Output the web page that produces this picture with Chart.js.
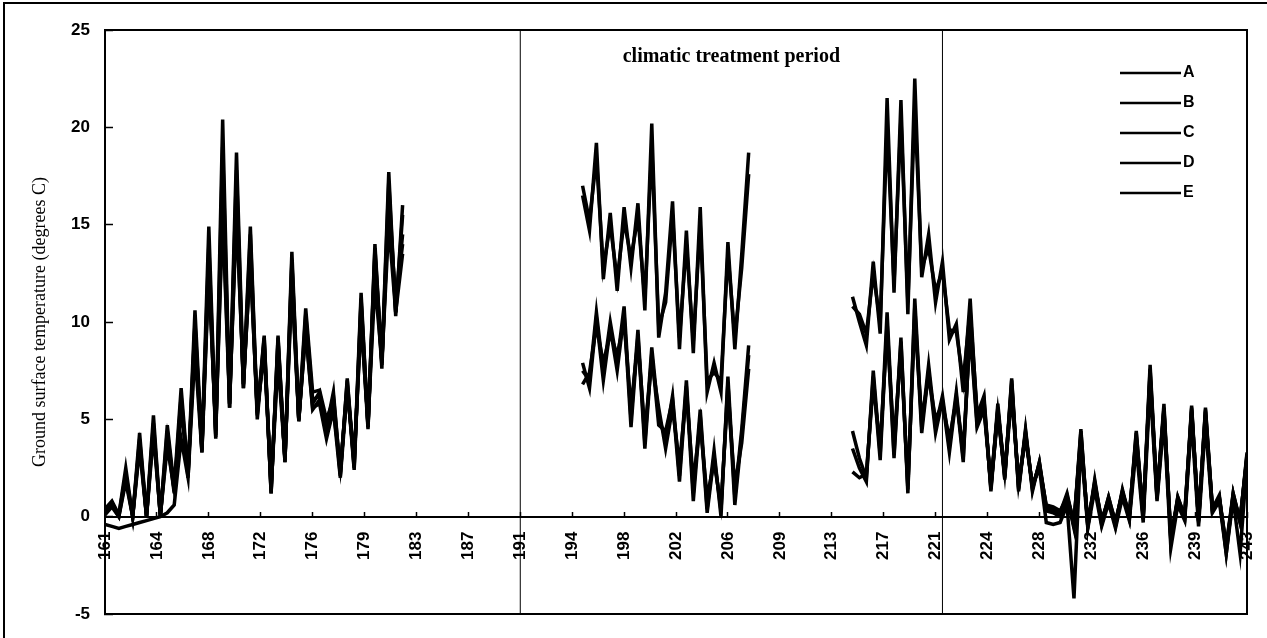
<!DOCTYPE html>
<html>
<head>
<meta charset="utf-8">
<title>Ground surface temperature</title>
<script src="https://cdn.jsdelivr.net/npm/chart.js@4.4.1/dist/chart.umd.min.js"></script>
<style>
  body { margin: 0; background: #fff; }
  canvas { display: block; }
</style>
</head>
<body>
<canvas id="Canvas1" width="1267" height="638"></canvas>
<script>
// sample times: two readings a day (night low, afternoon high), day 161 to 243.5
var days = [];
for (var d = 161; d <= 243.5; d += 0.5) days.push(d);

var tickDays = [161, 164.75, 168.5, 172.25, 176, 179.75, 183.5, 187.25, 191, 194.75, 198.5, 202.25,
    206, 209.75, 213.5, 217.25, 221, 224.75, 228.5, 232.25, 236, 239.75, 243.5];
var yRange = [-5, 25];
var treatmentPeriod = [191, 221.5];
var seriesNames = ['A', 'B', 'C', 'D', 'E'];
var block1Start = 195.5;
var block2Start = 215;

// before treatment, day 161 - 182.5
var preA = [-0.4,-0.5,-0.6,-0.5,-0.4,-0.3,-0.2,-0.1,0.0,0.2, 0.6,4.0,2.0,8.5,3.3,12.5,4.5,16.0,6.0,15.5,
    7.0,13.0,5.5,8.5,1.5,8.0,3.0,12.0,5.0,9.5, 5.5,6.0,4.2,5.5,2.5,6.5,3.0,10.0,4.8,12.0, 8.0,15.0,10.5,13.5];
var preB = [0.4,0.8,0.1,2.5,0.0,4.3,0.0,5.2,0.0,4.7, 1.5,6.6,2.2,10.6,3.5,14.9,4.2,20.4,5.8,18.7,
    6.8,14.9,5.3,9.3,1.2,9.3,2.8,13.6,5.0,10.7, 6.4,6.5,5.0,6.0,2.1,7.1,2.6,11.5,4.6,14.0, 7.9,17.7,10.3,16.0];
var preC = [0.2,0.6,0.0,2.0,0.0,3.8,0.0,4.6,0.0,4.0, 1.2,6.0,2.0,9.8,3.4,13.5,4.0,18.0,5.6,17.0,
    6.6,14.0,5.0,9.0,1.3,9.0,2.9,13.0,4.9,10.0, 5.8,6.4,4.5,6.2,2.3,6.8,2.4,11.0,4.7,13.5, 8.0,16.0,10.8,14.5];
var preD = [0.1,0.5,0.0,1.8,0.0,3.5,0.0,4.2,0.1,3.6, 1.4,5.5,2.4,9.0,3.6,12.8,4.4,15.5,5.8,16.0,
    6.8,13.2,5.4,8.8,1.6,8.6,3.0,12.4,5.0,9.6, 5.6,5.8,4.0,5.5,2.0,6.6,2.8,10.4,4.5,13.2, 7.6,16.4,11.0,14.0];
var preE = [0.3,0.7,0.1,2.2,0.0,4.0,0.0,4.8,0.0,4.4, 1.3,6.2,2.1,10.0,3.3,14.0,4.1,19.0,5.6,17.8,
    6.6,14.5,5.2,9.2,1.2,9.2,2.8,13.2,4.9,10.4, 6.0,6.2,4.6,6.4,2.2,7.0,2.5,11.2,4.6,13.8, 7.8,17.2,10.5,15.5];

// first treatment block, day 195.5 - 207.5
var t1A = [6.8,7.4,9.8,7.9,9.4,8.3,10.0,5.6,9.0,4.4,8.0,5.6,3.5,5.6,2.7,6.4,1.8,4.8,1.0,2.8,0.6,6.4,1.6,3.8,7.6];
var t1B = [16.5,14.7,19.2,12.2,15.6,11.6,15.9,12.8,16.1,10.6,20.2,9.2,11.5,16.2,8.6,14.7,8.4,15.9,6.4,7.9,6.4,14.1,8.6,13.5,18.7];
var t1C = [7.5,7.0,10.5,7.4,10.0,7.9,10.8,5.0,9.6,3.8,8.7,5.1,4.0,6.2,2.1,7.0,1.2,5.5,0.4,3.4,0.0,7.2,1.0,4.5,8.8];
var t1D = [17.0,15.2,18.4,12.8,15.0,12.2,15.2,13.3,15.4,11.2,19.0,9.8,11.0,15.5,9.2,14.0,9.0,15.0,7.0,7.4,7.0,13.5,9.2,12.8,17.6];
var t1E = [7.9,6.6,10.2,7.0,9.7,7.5,10.4,4.6,9.3,3.5,8.4,4.7,4.4,6.0,1.8,6.7,0.8,5.2,0.2,3.1,0.3,6.9,0.6,4.2,8.3];

// second treatment block and after, day 215 - 243.5
var t2A = [2.3,2.0,2.2,6.8,3.6,9.6,3.8,8.6,1.6,10.2,5.0,7.2,5.0,5.8,4.0,6.0,3.4,
    9.5,4.6,5.5,1.6,5.2,2.2,6.2,1.8,4.0,1.6,2.5,-0.3,-0.4,-0.3,0.6,-4.2,3.8,-0.6,1.4,-0.5,0.7,-0.6,1.0,-0.2,
    3.6,-0.3,6.8,0.8,5.0,-1.6,0.6,-0.2,5.0,-0.5,4.8,0.2,0.8,-1.9,0.9,-1.9,2.8];
var t2B = [11.3,10.0,8.8,13.1,9.4,21.5,11.5,21.4,10.4,22.5,12.3,14.5,11.0,13.1,9.1,9.9,6.4,
    11.2,5.0,6.0,1.4,5.8,2.0,7.1,1.4,4.5,1.4,2.8,0.5,0.4,0.2,1.2,-0.4,4.5,-0.5,1.9,-0.3,1.0,-0.4,1.4,0.0,
    4.4,0.0,7.8,1.0,5.8,-1.3,1.0,0.0,5.7,-0.3,5.6,0.4,1.1,-1.9,1.2,-0.3,3.3];
var t2C = [3.5,2.5,1.8,7.5,3.2,10.5,3.2,9.2,1.2,11.2,4.6,7.8,4.6,6.2,3.6,6.4,3.0,
    9.8,4.8,5.8,1.5,5.5,2.1,6.8,1.5,4.3,1.5,2.7,0.3,0.2,0.0,1.0,-0.6,4.2,-0.4,1.7,-0.4,0.9,-0.5,1.3,-0.1,
    4.1,-0.1,7.4,0.9,5.5,-1.2,0.9,-0.1,5.5,-0.2,5.4,0.3,1.0,-1.7,1.1,-0.3,3.1];
var t2D = [10.8,10.4,9.4,12.5,10.0,20.0,12.0,20.5,11.0,21.0,12.8,13.8,11.6,12.6,9.6,9.5,7.0,
    10.6,5.4,5.6,1.8,5.4,2.3,6.6,1.7,4.2,1.6,2.6,0.6,0.5,0.3,1.0,-0.2,4.0,-0.3,1.6,-0.1,0.8,-0.2,1.2,0.2,
    4.0,0.2,7.2,1.2,5.4,-1.0,0.8,0.2,5.4,0.0,5.2,0.5,0.9,-1.5,1.0,-0.1,3.0];
var t2E = [4.4,3.0,2.0,7.2,2.9,10.0,3.0,9.0,1.4,10.8,4.3,7.5,4.3,6.0,3.3,6.2,2.8,
    10.2,5.2,6.2,1.3,5.6,1.9,7.0,1.3,4.4,1.3,2.8,0.4,0.3,0.1,1.1,-0.5,4.4,-0.5,1.8,-0.3,1.0,-0.3,1.3,0.0,
    4.3,0.0,7.6,1.0,5.6,-1.1,1.0,0.0,5.6,-0.2,5.5,0.4,1.0,-1.5,1.2,-0.2,3.2];

// put the three blocks on the day axis, nulls where there is no reading
function build(pre, t1, t2) {
    var out = days.map(function () { return null; });
    var s1 = days.indexOf(block1Start);
    var s2 = days.indexOf(block2Start);
    pre.forEach(function (v, k) { out[k] = v; });
    t1.forEach(function (v, k) { out[s1 + k] = v; });
    t2.forEach(function (v, k) { out[s2 + k] = v; });
    return out;
}

var seriesData = [build(preA, t1A, t2A), build(preB, t1B, t2B), build(preC, t1C, t2C),
    build(preD, t1D, t2D), build(preE, t1E, t2E)];

var datasets = seriesNames.map(function (name, k) {
    return {
        label: name,
        data: seriesData[k],
        borderColor: '#000',
        backgroundColor: '#000',
        borderWidth: 3.5,
        pointRadius: 0,
        spanGaps: false,
        fill: false
    };
});

// start and end of the climatic treatment
treatmentPeriod.forEach(function (day) {
    datasets.push({
        label: '',
        data: [{x: day, y: yRange[0]}, {x: day, y: yRange[1]}],
        borderColor: '#000',
        borderWidth: 1,
        pointRadius: 0
    });
});

var tickFont = {family: 'Liberation Sans', size: 17, weight: 'bold'};

var framePlugin = {
    id: 'frame',
    beforeDraw: function (chart) {
        var c = chart.ctx, a = chart.chartArea;
        c.save();
        c.strokeStyle = '#000';
        c.lineWidth = 2;
        c.beginPath();
        c.moveTo(4, chart.height);
        c.lineTo(4, 3);
        c.lineTo(chart.width, 3);
        c.stroke();
        c.strokeRect(a.left, a.top, a.right - a.left, a.bottom - a.top);
        c.restore();
    }
};

var periodLabel = {
    id: 'periodLabel',
    afterDraw: function (chart) {
        var c = chart.ctx;
        var x = chart.scales.x.getPixelForValue((treatmentPeriod[0] + treatmentPeriod[1]) / 2);
        c.save();
        c.fillStyle = '#000';
        c.font = 'bold 20px "Liberation Serif"';
        c.textAlign = 'center';
        c.textBaseline = 'middle';
        c.fillText('climatic treatment period', x, chart.chartArea.top + 27);
        c.restore();
    }
};

// legend sits inside the plot, top right
var insideLegend = {
    id: 'insideLegend',
    afterDraw: function (chart) {
        var c = chart.ctx, a = chart.chartArea;
        c.save();
        c.strokeStyle = '#000';
        c.fillStyle = '#000';
        c.lineWidth = 2.5;
        c.font = 'bold 16px "Liberation Sans"';
        c.textAlign = 'left';
        c.textBaseline = 'middle';
        seriesNames.forEach(function (name, k) {
            var y = a.top + 43 + k * 30;
            c.beginPath();
            c.moveTo(a.right - 127, y);
            c.lineTo(a.right - 66, y);
            c.stroke();
            c.fillText(name, a.right - 64, y);
        });
        c.restore();
    }
};

var GKChart = document.getElementById('Canvas1').getContext('2d');

var myChart = new Chart(GKChart, {
    type: 'line',
    data: {
        labels: days,
        datasets: datasets
    },
    options: {
        responsive: false,
        animation: false,
        layout: {padding: {top: 30, right: 20, bottom: 24, left: 0}},
        plugins: {
            legend: {display: false},
            tooltip: {enabled: false}
        },
        elements: {line: {tension: 0}},
        scales: {
            x: {
                type: 'linear',
                position: {y: 0},
                min: days[0],
                max: tickDays[tickDays.length - 1],
                afterBuildTicks: function (scale) {
                    scale.ticks = tickDays.map(function (v) { return {value: v}; });
                },
                afterFit: function (scale) {
                    scale.paddingLeft = 0;
                    scale.paddingRight = 0;
                },
                grid: {drawOnChartArea: false, tickLength: -6, tickColor: '#000', tickWidth: 1.5},
                border: {color: '#000', width: 2},
                ticks: {
                    autoSkip: false,
                    minRotation: 90,
                    maxRotation: 90,
                    padding: 21,
                    color: '#000',
                    font: tickFont,
                    callback: function (v) { return Math.floor(v); }
                }
            },
            y: {
                min: yRange[0],
                max: yRange[1],
                afterFit: function (scale) {
                    scale.width = 105;
                    scale.paddingTop = 0;
                    scale.paddingBottom = 0;
                },
                grid: {drawOnChartArea: false, tickLength: -8, tickColor: '#000', tickWidth: 1.5},
                border: {color: '#000', width: 2},
                ticks: {stepSize: 5, padding: 23, color: '#000', font: tickFont},
                title: {
                    display: true,
                    text: 'Ground surface temperature (degrees C)',
                    color: '#000',
                    font: {family: 'Liberation Serif', size: 18},
                    padding: {top: 29, bottom: 0}
                }
            }
        }
    },
    plugins: [framePlugin, periodLabel, insideLegend]
});
</script>
</body>
</html>
